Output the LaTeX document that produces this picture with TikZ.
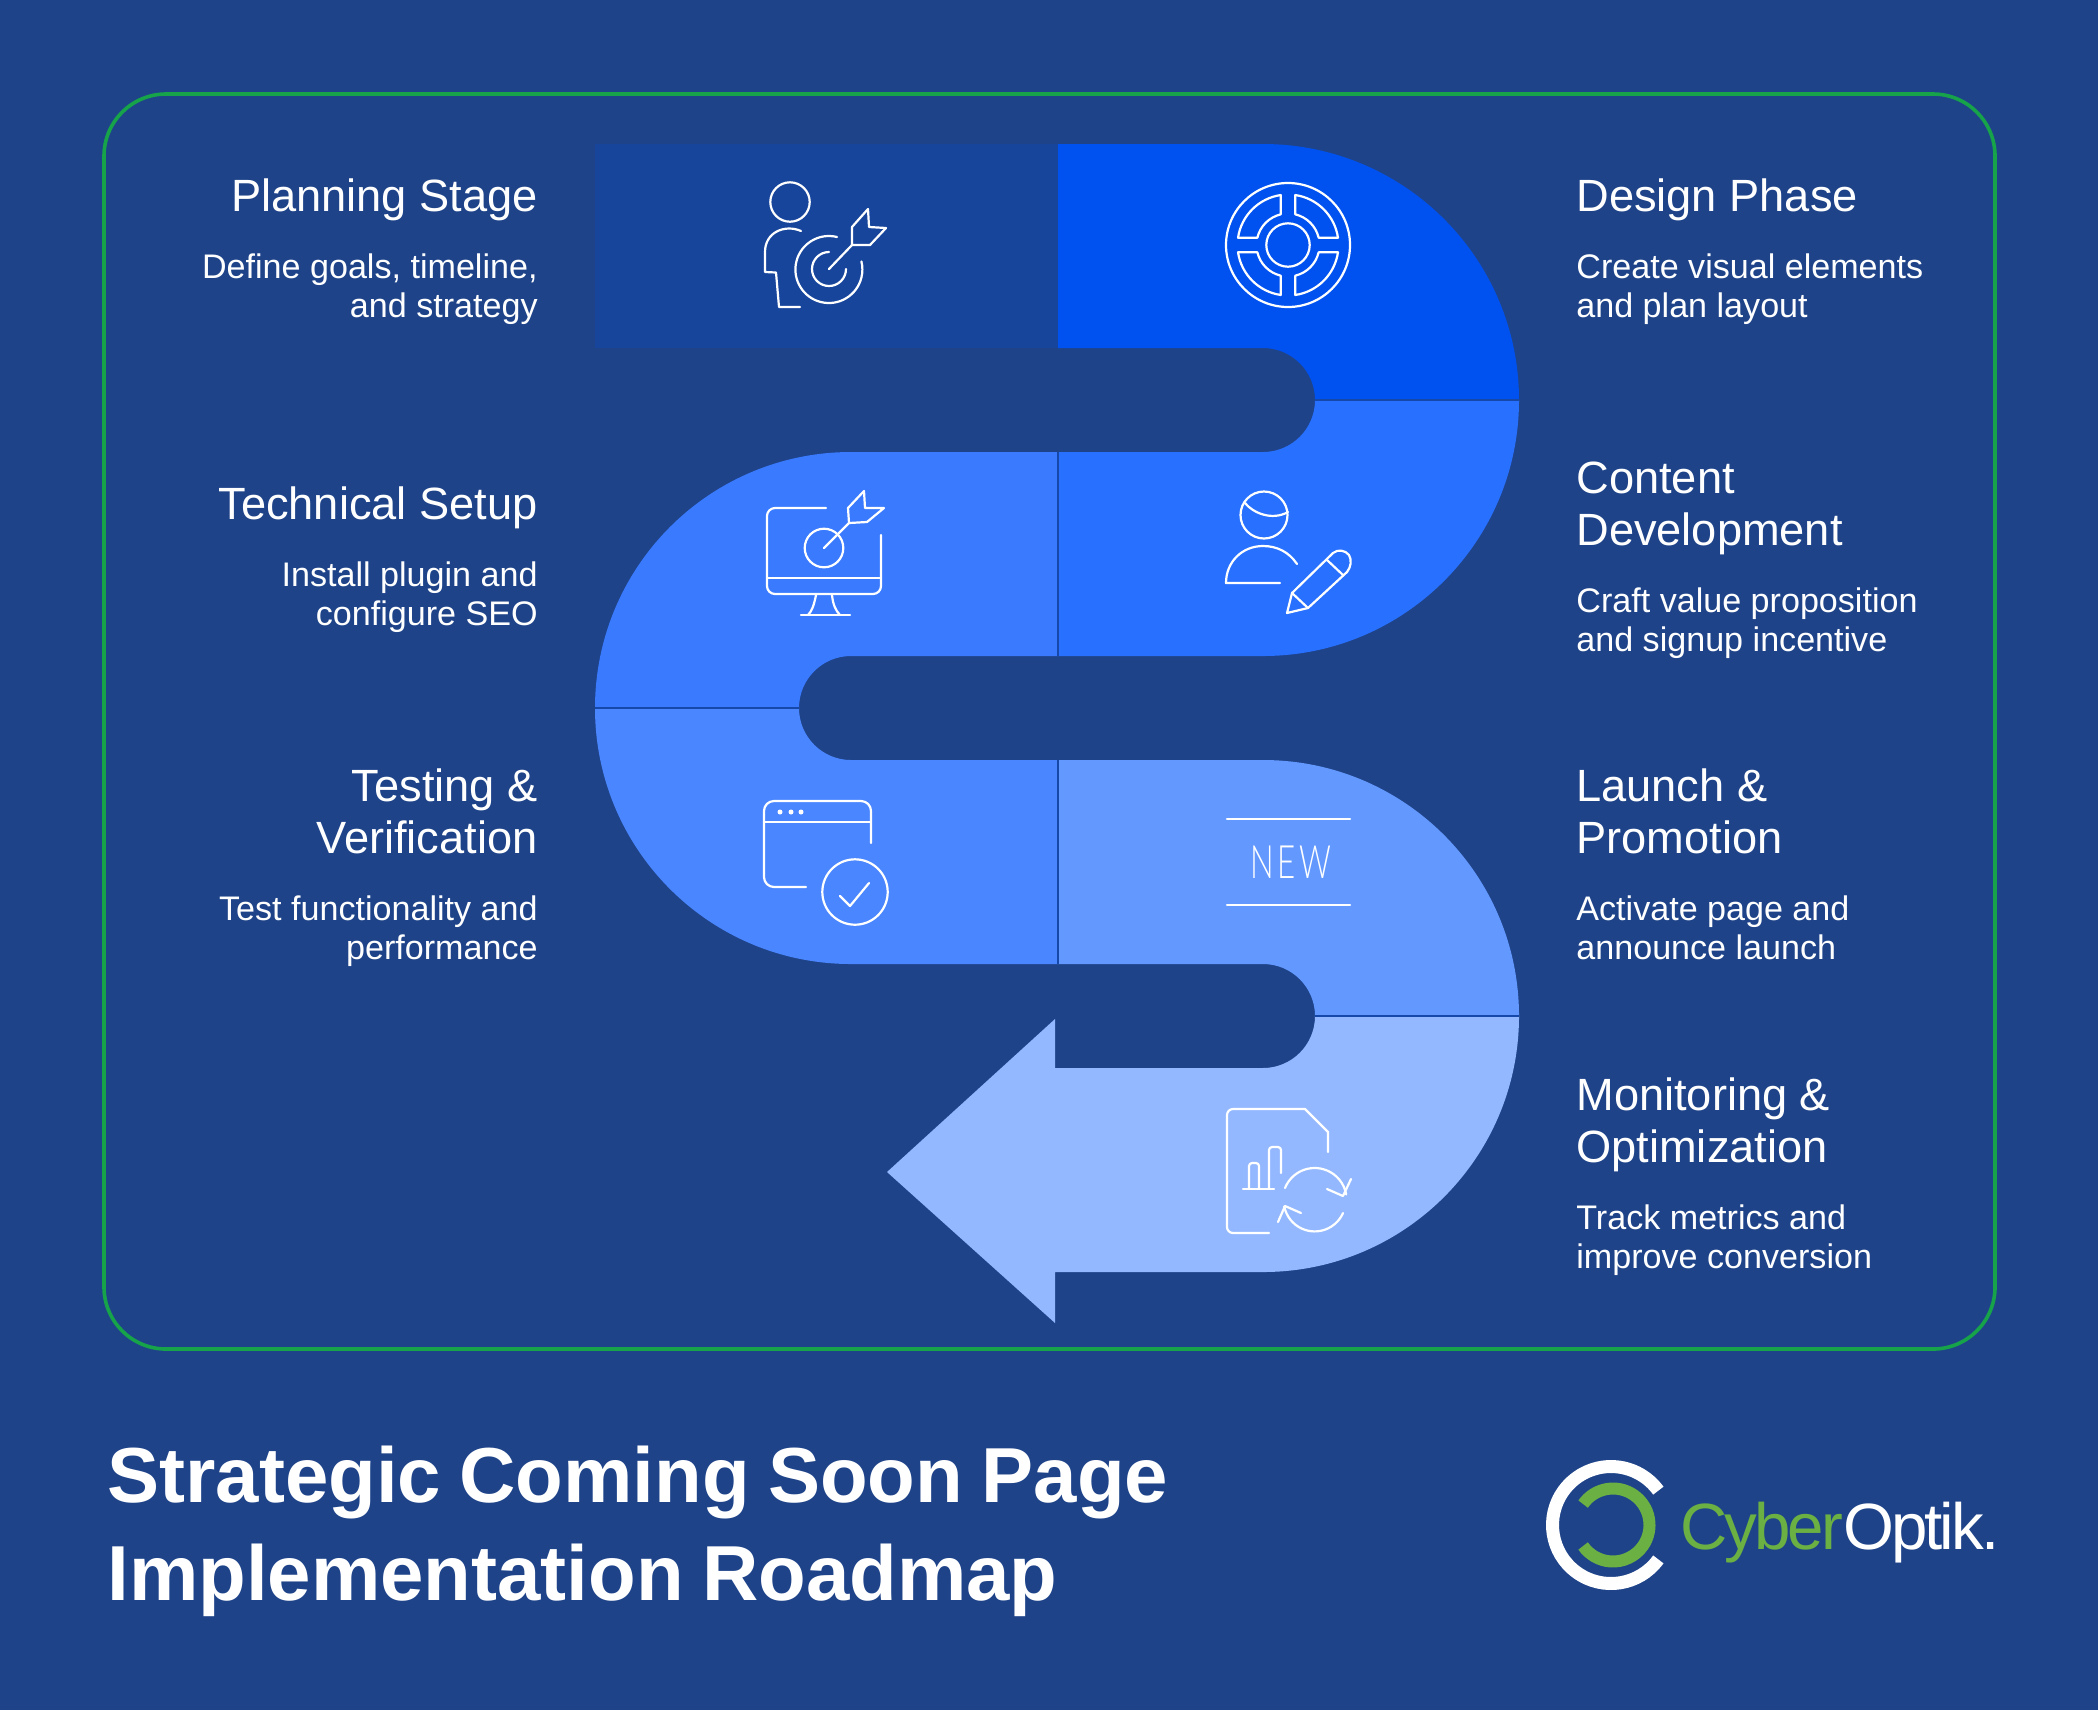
\documentclass[tikz,border=0pt]{standalone}
\usepackage{xcolor}
\usepackage{fontspec}
\setmainfont{Liberation Sans}
\newfontfamily\thinfont[LetterSpace=8,FakeStretch=0.68]{Lato Light}
\newfontfamily\titlefont[WordSpace=0.85]{Liberation Sans}
\definecolor{bgblue}{HTML}{1E4389}
\definecolor{framegreen}{HTML}{16A34A}
\definecolor{planblue}{HTML}{17459C}
\definecolor{designblue}{HTML}{0052F0}
\definecolor{contentblue}{HTML}{2870FF}
\definecolor{techblue}{HTML}{397AFF}
\definecolor{testblue}{HTML}{4A86FF}
\definecolor{launchblue}{HTML}{6399FF}
\definecolor{monitorblue}{HTML}{94B8FF}
\definecolor{logogreen}{HTML}{6BB043}

\begin{document}
\begin{tikzpicture} [x=0.5pt,y=-0.5pt,
    headleft/.style={anchor=base east, inner sep=0pt, text=white, align=right, font=\fontsize{22.6}{26}\selectfont},
    headright/.style={anchor=base west, inner sep=0pt, text=white, align=left, font=\fontsize{22.6}{26}\selectfont},
    bodyleft/.style={anchor=base east, inner sep=0pt, text=white, align=right, font=\fontsize{17.05}{19.3}\selectfont},
    bodyright/.style={anchor=base west, inner sep=0pt, text=white, align=left, font=\fontsize{17.05}{19.3}\selectfont},
    titletext/.style={anchor=base west, inner sep=0pt, text=white, font=\titlefont\fontsize{39}{49}\selectfont\bfseries},
    sepline/.style={draw=bgblue!70!designblue, line width=0.7pt},
    iconline/.style={draw=white, line width=1.1pt, line cap=round, line join=round}
]
    \useasboundingbox (0,0) rectangle (2098,1710);
    \fill[bgblue] (0,0) rectangle (2098,1710);
    \draw[framegreen, line width=1.8pt, rounded corners=31pt] (104,94) rectangle (1995,1349);

    % ribbon
    \fill[planblue] (595,144) rectangle (1058,348);
    \fill[designblue] (1058,144) -- (1263,144) arc[start angle=-90,end angle=0,radius=256] -- (1315,400) arc[start angle=0,end angle=-90,radius=52] -- (1058,348) -- cycle;
    \fill[contentblue] (1519,400) arc[start angle=0,end angle=90,radius=256] -- (1058,656) -- (1058,452) -- (1263,452) arc[start angle=90,end angle=0,radius=52] -- cycle;
    \fill[techblue] (1058,452) -- (851,452) arc[start angle=-90,end angle=-180,radius=256] -- (799,708) arc[start angle=180,end angle=270,radius=52] -- (1058,656) -- cycle;
    \fill[testblue] (595,708) arc[start angle=180,end angle=90,radius=256] -- (1058,964) -- (1058,760) -- (851,760) arc[start angle=90,end angle=180,radius=52] -- cycle;
    \fill[launchblue] (1058,760) -- (1263,760) arc[start angle=-90,end angle=0,radius=256] -- (1315,1016) arc[start angle=0,end angle=-90,radius=52] -- (1058,964) -- cycle;
    \fill[monitorblue] (1519,1016) arc[start angle=0,end angle=90,radius=256] -- (1055,1272) -- (1055,1323) -- (887,1172) -- (1055,1019) -- (1055,1068) -- (1263,1068) arc[start angle=90,end angle=0,radius=52] -- cycle;

    \draw[sepline] (1315,400) -- (1519,400);
    \draw[sepline] (595,708) -- (799,708);
    \draw[sepline] (1315,1016) -- (1519,1016);
    \draw[sepline] (1058,452) -- (1058,656);
    \draw[sepline] (1058,760) -- (1058,964);

    % planning icon
    \draw[iconline] (790,202) circle[radius=19.7];
    \draw[iconline] (801,231) .. controls (785,224) and (765,232) .. (765,252) -- (765,272) -- (776,272.5) -- (779,307) -- (800,307);
    \draw[iconline] (837,237) arc[start angle=-76,end angle=-374,radius=33.5];
    \draw[iconline] (829,252) arc[start angle=-90,end angle=-360,radius=17];
    \draw[iconline] (829,269) -- (852,245) -- (852,227) -- (868,209) -- (869,227) -- (886,228) -- (870,245) -- (852,245);

    % design icon
    \draw[iconline] (1288,245) circle[radius=62];
    \draw[iconline] (1288,245) circle[radius=21.7];
    \foreach \Angle in {0,90,180,270}{
        \draw[iconline, shift={(1288,245)}] (\Angle+8.3:50.5) arc[start angle=\Angle+8.3,end angle=\Angle+81.7,radius=50.5] -- (\Angle+76.6:31.5) arc[start angle=\Angle+76.6,end angle=\Angle+13.4,radius=31.5] -- cycle;
    }

    % technical icon
    \draw[iconline, rounded corners=4pt] (826,508) -- (767,508) -- (767,594) -- (881,594) -- (881,535);
    \draw[iconline] (767,578) -- (881,578);
    \draw[iconline] (816,595) .. controls (814,605) and (812,611) .. (808,615);
    \draw[iconline] (832,595) .. controls (833,605) and (836,611) .. (840,615);
    \draw[iconline] (801,615) -- (850,615);
    \draw[iconline] (824,548) circle[radius=19.3];
    \draw[iconline] (824,548) -- (849,523) -- (848,508) -- (864,491) -- (865,508) -- (884,508) -- (867,522) -- (849,523);

    % content icon
    \draw[iconline] (1264,515) circle[radius=23.5];
    \draw[iconline] (1245,503) .. controls (1253,513) and (1272,521) .. (1288,512);
    \draw[iconline] (1297,564) .. controls (1289,552) and (1277,546) .. (1263,546) .. controls (1242,546) and (1226,562) .. (1226,583) -- (1280,583);
    \draw[iconline] (1287,613) -- (1292,593) -- (1333,553) .. controls (1338,549) and (1345,550) .. (1349,555) .. controls (1352,560) and (1351,567) .. (1347,572) -- (1308,608) -- cycle;
    \draw[iconline] (1292,593) -- (1308,608);
    \draw[iconline] (1327,560) -- (1343,575);

    % testing icon
    \draw[iconline, rounded corners=5pt] (806,887) -- (764,887) -- (764,801) -- (871,801) -- (871,843);
    \draw[iconline] (764,822) -- (871,822);
    \foreach \Dot in {780,791,801}{
        \fill[white] (\Dot,812) circle[radius=2.5];
    }
    \draw[iconline] (855,892) circle[radius=32.7];
    \draw[iconline] (840,896) -- (850,906) -- (869,883);

    % launch icon
    \draw[iconline] (1227,819) -- (1350,819);
    \draw[iconline] (1227,905) -- (1350,905);
    \node (newTag) [anchor=base, inner sep=0pt, text=white, font=\thinfont\fontsize{23}{23}\selectfont] at (1291,878) {NEW};

    % monitoring icon
    \draw[iconline, rounded corners=3pt] (1269,1233) -- (1227,1233) -- (1227,1109) -- (1305,1109);
    \draw[iconline] (1305,1109) -- (1328,1132) -- (1328,1152);
    \draw[iconline] (1243,1189) -- (1274,1189);
    \draw[iconline, rounded corners=1.5pt] (1249,1189) -- (1249,1163) -- (1259,1163) -- (1259,1189);
    \draw[iconline, rounded corners=1.5pt] (1269,1189) -- (1269,1147) -- (1281,1147) -- (1281,1173);
    \draw[iconline] (1285,1188) arc[start angle=-158,end angle=-10,radius=32];
    \draw[iconline] (1351,1179) -- (1343,1196) -- (1327,1189);
    \draw[iconline] (1343,1213) arc[start angle=24,end angle=169,radius=31];
    \draw[iconline] (1278,1222) -- (1285,1206) -- (1301,1213);

    % left column
    \node (planHead) [headleft] at (538,211) {Planning Stage};
    \node (planBody) [bodyleft] at (538,317) {Define goals, timeline,\\and strategy};
    \node (techHead) [headleft] at (538,519) {Technical Setup};
    \node (techBody) [bodyleft] at (538,625) {Install plugin and\\configure SEO};
    \node (testHead) [headleft] at (538,853) {Testing \&\\Verification};
    \node (testBody) [bodyleft] at (538,959) {Test functionality and\\performance};

    % right column
    \node (designHead) [headright] at (1576,211) {Design Phase};
    \node (designBody) [bodyright] at (1576,317) {Create visual elements\\and plan layout};
    \node (contentHead) [headright] at (1576,545) {Content\\Development};
    \node (contentBody) [bodyright] at (1576,651) {Craft value proposition\\and signup incentive};
    \node (launchHead) [headright] at (1576,853) {Launch \&\\Promotion};
    \node (launchBody) [bodyright] at (1576,959) {Activate page and\\announce launch};
    \node (monitorHead) [headright] at (1576,1162) {Monitoring \&\\Optimization};
    \node (monitorBody) [bodyright] at (1576,1268) {Track metrics and\\improve conversion};

    % title
    \node (titleOne) [titletext] at (107,1502) {Strategic Coming Soon Page};
    \node (titleTwo) [titletext] at (107,1600) {Implementation Roadmap};

    % logo
    \draw[white, line width=6.5pt] (1611,1525) ++(36:58.5) arc[start angle=36,end angle=324,radius=58.5];
    \draw[logogreen, line width=6pt] (1613,1525) ++(-145:36.5) arc[start angle=-145,end angle=145,radius=36.5];
    \node (logoText) [anchor=base west, inner sep=0pt, font=\addfontfeature{LetterSpace=-4.5}\fontsize{32.7}{32.7}\selectfont] at (1680,1549) {\textcolor{logogreen}{Cyber}\textcolor{white}{Optik.}};
\end{tikzpicture}
\end{document}
